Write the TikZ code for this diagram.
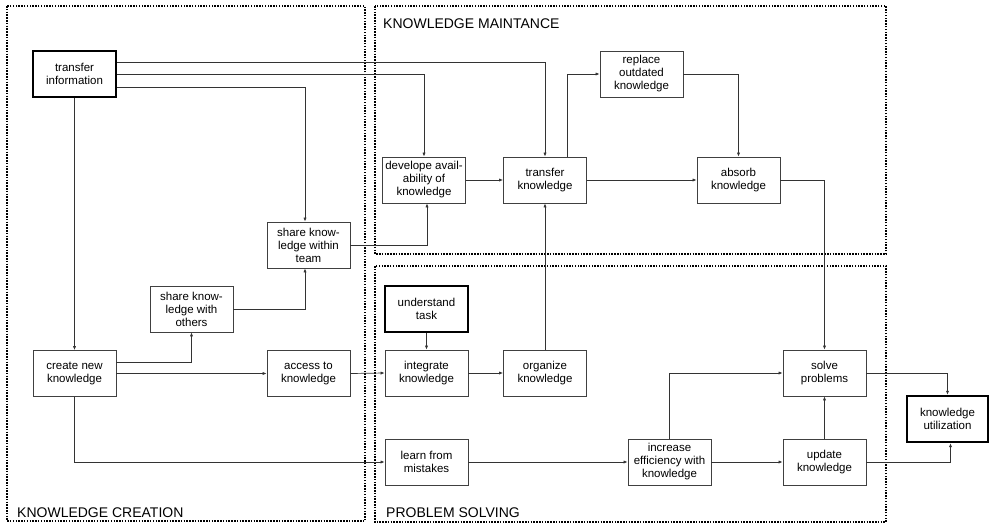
\documentclass[tikz,border=0pt]{standalone}
\usepackage{fontspec}
\setmainfont{Liberation Sans}
\usetikzlibrary{arrows.meta}
\begin{document}
\begin{tikzpicture}[x=1pt,y=-1pt,
  box/.style={draw=black!75,line width=0.8pt,minimum width=83pt,minimum height=46pt,inner sep=1pt,align=center,font=\fontsize{11.5}{13}\selectfont,fill=white},
  thickbox/.style={box,draw=black,line width=2.4pt},
  region/.style={draw=black,line width=1.8pt,dash pattern=on 1.5pt off 1.3pt},
  conn/.style={draw=black!80,line width=0.7pt,-{Latex[length=4pt,width=3.2pt]}},
  rlabel/.style={anchor=west,inner sep=0pt,font=\fontsize{14}{16}\selectfont}]
\useasboundingbox (0,0) rectangle (989,525);
% regions
\draw[region] (7,6) rectangle (365,521);
\draw[region] (375,6) rectangle (886,254);
\draw[region] (375,266) rectangle (886,522);
\node[rlabel] (lm) at (383,24) {KNOWLEDGE MAINTANCE};
\node[rlabel] (lc) at (17,513) {KNOWLEDGE CREATION};
\node[rlabel] (lp) at (386,513) {PROBLEM SOLVING};
% nodes
\node[thickbox] (ti) at (74.5,74) {transfer\\information};
\node[box] (team) at (308.5,245) {share know-\\ledge within\\team};
\node[box] (others) at (191.5,309) {share know-\\ledge with\\others};
\node[box] (create) at (74.5,373.5) {create new\\knowledge};
\node[box] (access) at (308.5,373.5) {access to\\knowledge};
\node[box] (dev) at (424,180) {develope avail-\\ability of\\knowledge};
\node[box] (tk) at (545,180) {transfer\\knowledge};
\node[box] (replace) at (641.5,74) {replace\\outdated\\knowledge};
\node[box] (absorb) at (738.5,180) {absorb\\knowledge};
\node[thickbox] (understand) at (426.5,309) {understand\\task};
\node[box] (integrate) at (426.5,373) {integrate\\knowledge};
\node[box] (organize) at (545,373) {organize\\knowledge};
\node[box] (learn) at (426.5,462) {learn from\\mistakes};
\node[box] (increase) at (669.5,462) {increase\\efficiency with\\knowledge};
\node[box] (solve) at (824.5,373) {solve\\problems};
\node[box] (update) at (824.5,462) {update\\knowledge};
\node[thickbox,minimum width=81pt] (ku) at (947.5,419) {knowledge\\utilization};
% connectors
\draw[conn] ([yshift=12pt]ti.east) -| (tk.north);
\draw[conn] (ti.east) -| (dev.north);
\draw[conn] ([yshift=-13pt]ti.east) -| ([xshift=-3.5pt]team.north);
\draw[conn] (ti.south) -- (create.north);
\draw[conn] (team.east) -| ([xshift=3pt]dev.south);
\draw[conn] (others.east) -| ([xshift=-3.5pt]team.south);
\draw[conn] ([yshift=11.5pt]create.east) -| (others.south);
\draw[conn] (create.east) -- (access.west);
\draw[conn] (access.east) -- (integrate.west);
\draw[conn] (create.south) |- (learn.west);
\draw[conn] (understand.south) -- (understand.south |- integrate.north);
\draw[conn] (integrate.east) -- (organize.west);
\draw[conn] (organize.north) -- (tk.south);
\draw[conn] (dev.east) -- (tk.west);
\draw[conn] ([xshift=22pt]tk.north) |- (replace.west);
\draw[conn] (tk.east) -- (absorb.west);
\draw[conn] (replace.east) -| (absorb.north);
\draw[conn] (absorb.east) -| (solve.north);
\draw[conn] (learn.east) -- (increase.west);
\draw[conn] (increase.north) |- (solve.west);
\draw[conn] (increase.east) -- (update.west);
\draw[conn] (update.north) -- (solve.south);
\draw[conn] (solve.east) -| (ku.north);
\draw[conn] (update.east) -| ([xshift=3pt]ku.south);
\end{tikzpicture}
\end{document}
